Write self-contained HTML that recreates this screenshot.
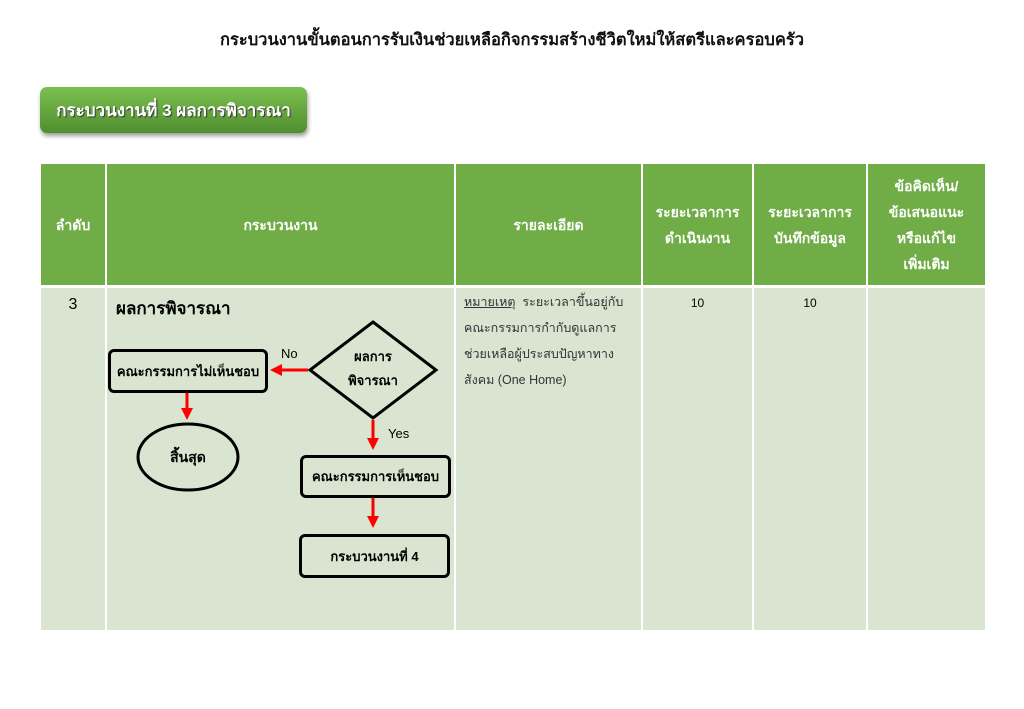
<!DOCTYPE html>
<html><head><meta charset="utf-8"><style>
body{margin:0;width:1024px;height:709px;background:#fff;position:relative;font-family:"Liberation Sans","DejaVu Sans",sans-serif;overflow:hidden}
.a{position:absolute}
.h{background:#70ad47;color:#fff;font-size:14px;font-weight:bold;display:flex;align-items:center;justify-content:center;text-align:center;line-height:26px}
.b{background:#d9e5d0}
.box{position:absolute;border:3px solid #000;border-radius:6px;background:#d9e5d0;font-size:13px;font-weight:bold;display:flex;align-items:center;justify-content:center}
</style></head><body>
<div class="a" style="left:0;width:1024px;top:27px;text-align:center;font-size:16.5px;font-weight:bold;color:#111">กระบวนงานขั้นตอนการรับเงินช่วยเหลือกิจกรรมสร้างชีวิตใหม่ให้สตรีและครอบครัว</div>
<div class="a" style="left:40px;top:87px;width:267px;height:46px;border-radius:7px;background:linear-gradient(#7cc050,#4f8f2e);box-shadow:1px 3px 4px rgba(0,0,0,.4);color:#fff;font-size:17px;font-weight:bold;display:flex;align-items:center;justify-content:center;text-shadow:1px 1px 1px #333">กระบวนงานที่ 3 ผลการพิจารณา</div>

<div class="a h" style="left:41px;top:164px;width:64px;height:121px">ลำดับ</div>
<div class="a h" style="left:107px;top:164px;width:347px;height:121px">กระบวนงาน</div>
<div class="a h" style="left:456px;top:164px;width:185px;height:121px">รายละเอียด</div>
<div class="a h" style="left:643px;top:164px;width:109px;height:121px">ระยะเวลาการ<br>ดำเนินงาน</div>
<div class="a h" style="left:754px;top:164px;width:112px;height:121px">ระยะเวลาการ<br>บันทึกข้อมูล</div>
<div class="a h" style="left:868px;top:164px;width:117px;height:121px">ข้อคิดเห็น/<br>ข้อเสนอแนะ<br>หรือแก้ไข<br>เพิ่มเติม</div>

<div class="a b" style="left:41px;top:288px;width:64px;height:342px"></div>
<div class="a b" style="left:107px;top:288px;width:347px;height:342px"></div>
<div class="a b" style="left:456px;top:288px;width:185px;height:342px"></div>
<div class="a b" style="left:643px;top:288px;width:109px;height:342px"></div>
<div class="a b" style="left:754px;top:288px;width:112px;height:342px"></div>
<div class="a b" style="left:868px;top:288px;width:117px;height:342px"></div>

<div class="a" style="left:41px;width:64px;top:296px;text-align:center;font-size:16px">3</div>
<div class="a" style="left:116px;top:295px;font-size:17px;font-weight:bold">ผลการพิจารณา</div>
<div class="a" style="left:464px;top:289px;width:178px;font-size:12.5px;line-height:26px;color:#333;white-space:nowrap"><u>หมายเหตุ</u>&nbsp; ระยะเวลาขึ้นอยู่กับ<br>คณะกรรมการกำกับดูแลการ<br>ช่วยเหลือผู้ประสบปัญหาทาง<br>สังคม (One Home)</div>
<div class="a" style="left:643px;width:109px;top:296px;text-align:center;font-size:12px">10</div>
<div class="a" style="left:754px;width:112px;top:296px;text-align:center;font-size:12px">10</div>

<svg class="a" style="left:0;top:0" width="1024" height="709">
<polygon points="373,322 436,370 373,418 310,370" fill="#d9e5d0" stroke="#000" stroke-width="3"/>
<ellipse cx="188" cy="457" rx="50" ry="33" fill="#d9e5d0" stroke="#000" stroke-width="3"/>
<g stroke="#f00" stroke-width="3" fill="#f00">
<line x1="308" y1="370" x2="280" y2="370"/><polygon points="270,370 282,364 282,376" stroke="none"/>
<line x1="187" y1="392" x2="187" y2="410"/><polygon points="187,420 181,408 193,408" stroke="none"/>
<line x1="373" y1="420" x2="373" y2="440"/><polygon points="373,450 367,438 379,438" stroke="none"/>
<line x1="373" y1="497" x2="373" y2="518"/><polygon points="373,528 367,516 379,516" stroke="none"/>
</g>
<g font-family="Liberation Sans,sans-serif" font-weight="bold">
<text x="373" y="361" font-size="13" text-anchor="middle">ผลการ</text>
<text x="373" y="385" font-size="13" text-anchor="middle">พิจารณา</text>
<text x="281" y="358" font-size="13" font-weight="normal">No</text>
<text x="388" y="438" font-size="13" font-weight="normal">Yes</text>
<text x="188" y="462" font-size="14" text-anchor="middle">สิ้นสุด</text>
</g>
</svg>
<div class="box" style="left:108px;top:349px;width:154px;height:38px">คณะกรรมการไม่เห็นชอบ</div>
<div class="box" style="left:300px;top:455px;width:145px;height:37px">คณะกรรมการเห็นชอบ</div>
<div class="box" style="left:299px;top:534px;width:145px;height:38px">กระบวนงานที่ 4</div>
</body></html>
